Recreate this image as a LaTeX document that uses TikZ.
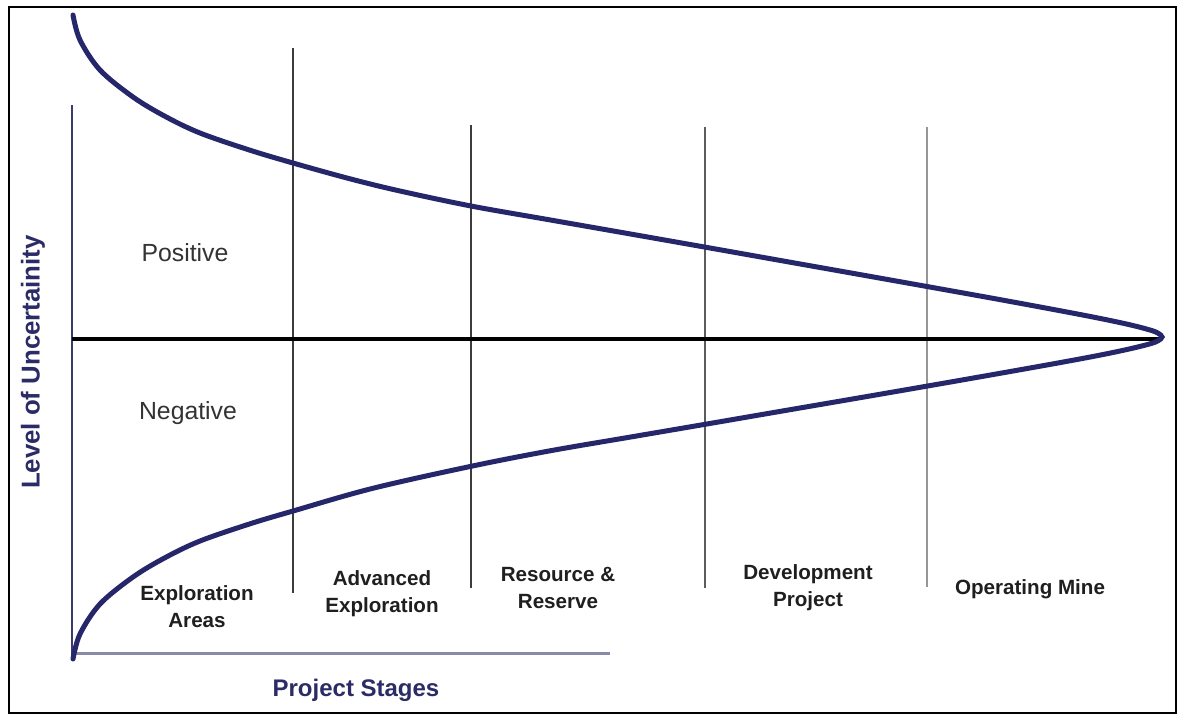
\documentclass[tikz,border=0pt]{standalone}
\usepackage{fontspec}
\setmainfont{Liberation Sans}
\definecolor{navy}{HTML}{26266A}
\definecolor{navytext}{HTML}{2B2B66}
\definecolor{axisblue}{HTML}{8A8AA8}
\definecolor{darkline}{HTML}{3C3C3C}
\definecolor{midline}{HTML}{5C5C5C}
\definecolor{lightline}{HTML}{969696}
\definecolor{labelgray}{HTML}{333333}
\tikzset{
  stagelbl/.style={font=\fontsize{10.3}{13.5}\selectfont\bfseries, text=black!88, align=center, inner sep=0pt},
  signlbl/.style={font=\fontsize{12.4}{14}\selectfont, text=labelgray, inner sep=0pt},
  stageline/.style={line width=1pt},
}
\begin{document}
\begin{tikzpicture}[x=0.5pt,y=-0.5pt]
\useasboundingbox (0,0) rectangle (1181,720);
\fill[white] (0,0) rectangle (1181,720);
% frame
\draw[line width=1.1pt] (9,7) rectangle (1176,713);
% axes
\coordinate (yaxtop) at (72,105);
\coordinate (origin) at (72,655);
\coordinate (xaxend) at (610,653);
\draw[line width=0.9pt, color=navytext!80!gray] (yaxtop) -- (origin);
\draw[line width=1.5pt, color=axisblue] (72,653) -- (xaxend);
% stage dividers
\draw[stageline, darkline] (293,48) -- (293,593);
\draw[stageline, darkline] (471,125) -- (471,588);
\draw[stageline, midline] (705,127) -- (705,588);
\draw[stageline, lightline, line width=1.2pt] (927,127) -- (927,587);
% centre line
\coordinate (cl) at (72,339);
\coordinate (cr) at (1160,339);
\draw[line width=1.8pt] (cl) -- (cr);
% uncertainty curve
\draw[navy, line width=2.5pt, line cap=round] plot[smooth, tension=0.55] coordinates {
 (73,15) (80,40) (100,70) (133,97) (165,116.3) (200,133) (250,150.2) (293,163)
 (350,178.8) (400,191) (471,206) (550,219.9) (630,233.9) (705,247.1) (780,260.4)
 (850,272.8) (927,286.5) (1000,299.6) (1060,310.7) (1100,318.4) (1130,324.8)
 (1150,330) (1158,333.1) (1162,337)
 (1158,340.8) (1150,343.8) (1130,348.8) (1100,355.1) (1060,362.6) (1000,373.3)
 (927,386.1) (850,399.4) (780,411.4) (705,424.3) (630,437.1) (550,450.8)
 (471,466.3) (372,488.5) (293,511) (250,523.8) (200,541) (165,557.7) (133,577)
 (100,604) (80,634) (73,659)};
% labels
\node[signlbl] (pos) at (185,253) {Positive};
\node[signlbl] (neg) at (188,413) {Negative};
\node[rotate=90, font=\fontsize{12.9}{14}\selectfont\bfseries, text=navytext, inner sep=0pt] (ylab) at (33,362) {Level of Uncertainity};
\node[font=\fontsize{12}{14}\selectfont\bfseries, text=navytext, inner sep=0pt] (xlab) at (356,690) {Project Stages};
\node[stagelbl] (s1) at (197,607) {Exploration\\Areas};
\node[stagelbl] (s2) at (382,594) {Advanced\\Exploration};
\node[stagelbl] (s3) at (558,588) {Resource \&\\Reserve};
\node[stagelbl] (s4) at (808,588) {Development\\Project};
\node[stagelbl] (s5) at (1030,589) {Operating Mine};
\end{tikzpicture}
\end{document}
